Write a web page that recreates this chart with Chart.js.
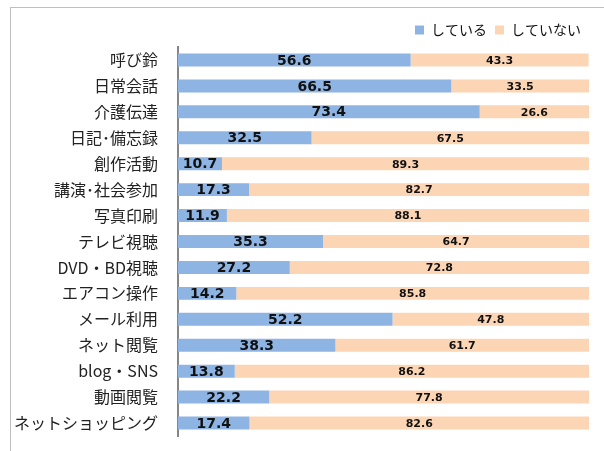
<!DOCTYPE html>
<html>
<head>
<meta charset="utf-8">
<script src="https://cdn.jsdelivr.net/npm/chart.js@4"></script>
<style>
  html, body { margin: 0; padding: 0; background: #fff; overflow: hidden; }
  #wrap { position: relative; width: 604px; height: 451px; }
  #frame { position: absolute; left: 10px; top: 7px; width: 700px; height: 600px; border: 1px solid #bfbfbf; }
  canvas { position: absolute; left: 0; top: 0; }
</style>
</head>
<body>
<div id="wrap">
  <div id="frame"></div>
  <canvas id="usageChart" width="604" height="451"></canvas>
</div>
<script>
// カテゴリ
const categories = [
    '呼び鈴', '日常会話', '介護伝達', '日記･備忘録', '創作活動', '講演･社会参加', '写真印刷',
    'テレビ視聴', 'DVD・BD視聴', 'エアコン操作', 'メール利用', 'ネット閲覧', 'blog・SNS',
    '動画閲覧', 'ネットショッピング'
];
// している (%)
const usingValues = [56.6, 66.5, 73.4, 32.5, 10.7, 17.3, 11.9, 35.3, 27.2, 14.2, 52.2, 38.3, 13.8, 22.2, 17.4];
// していない (%)
const notUsingValues = [43.3, 33.5, 26.6, 67.5, 89.3, 82.7, 88.1, 64.7, 72.8, 85.8, 47.8, 61.7, 86.2, 77.8, 82.6];
const seriesLabels = ['している', 'していない'];

const jpFont = '"Noto Sans CJK JP", "Noto Sans", sans-serif';

// 値ラベルを描く簡単なプラグイン
const valueLabels = {
    id: 'valueLabels',
    afterDatasetsDraw(chart) {
        const ctx = chart.ctx;
        ctx.save();
        ctx.textAlign = 'center';
        ctx.textBaseline = 'middle';
        ctx.fillStyle = '#111';
        chart.data.datasets.forEach((ds, i) => {
            const meta = chart.getDatasetMeta(i);
            ctx.font = i === 0 ? 'bold 14px "DejaVu Sans", sans-serif' : 'bold 11px "DejaVu Sans", sans-serif';
            meta.data.forEach((bar, j) => {
                const { x, y, base } = bar.getProps(['x', 'y', 'base'], true);
                ctx.fillText(ds.data[j].toFixed(1), (x + base) / 2, y + 1);
            });
        });
        ctx.restore();
    }
};

const chart = new Chart(document.getElementById('usageChart').getContext('2d'), {
    type: 'bar',
    data: {
        labels: categories,
        datasets: [
            {
                label: seriesLabels[0],
                data: usingValues,
                backgroundColor: '#8eb4e3',
                borderWidth: 0,
                categoryPercentage: 1,
                barPercentage: 0.5
            },
            {
                label: seriesLabels[1],
                data: notUsingValues,
                backgroundColor: '#fcd5b5',
                borderWidth: 0,
                categoryPercentage: 1,
                barPercentage: 0.5
            }
        ]
    },
    options: {
        indexAxis: 'y',
        responsive: false,
        animation: false,
        layout: {
            padding: { left: 0, right: 15, top: 15, bottom: 15 }
        },
        plugins: {
            legend: {
                position: 'top',
                align: 'end',
                labels: {
                    boxWidth: 9,
                    boxHeight: 9,
                    padding: 8,
                    color: '#111',
                    font: { family: jpFont, size: 14 }
                }
            },
            tooltip: { enabled: false }
        },
        scales: {
            x: {
                stacked: true,
                min: 0,
                max: 100,
                display: false
            },
            y: {
                stacked: true,
                grid: { display: false, drawTicks: false },
                border: { display: true, color: '#868686', width: 2 },
                ticks: {
                    padding: 20,
                    color: '#222',
                    font: { family: jpFont, size: 16 }
                },
                afterFit(scale) {
                    scale.width = 178;
                    scale.paddingTop = 0;
                    scale.paddingBottom = 0;
                }
            }
        }
    },
    plugins: [valueLabels]
});
</script>
</body>
</html>
